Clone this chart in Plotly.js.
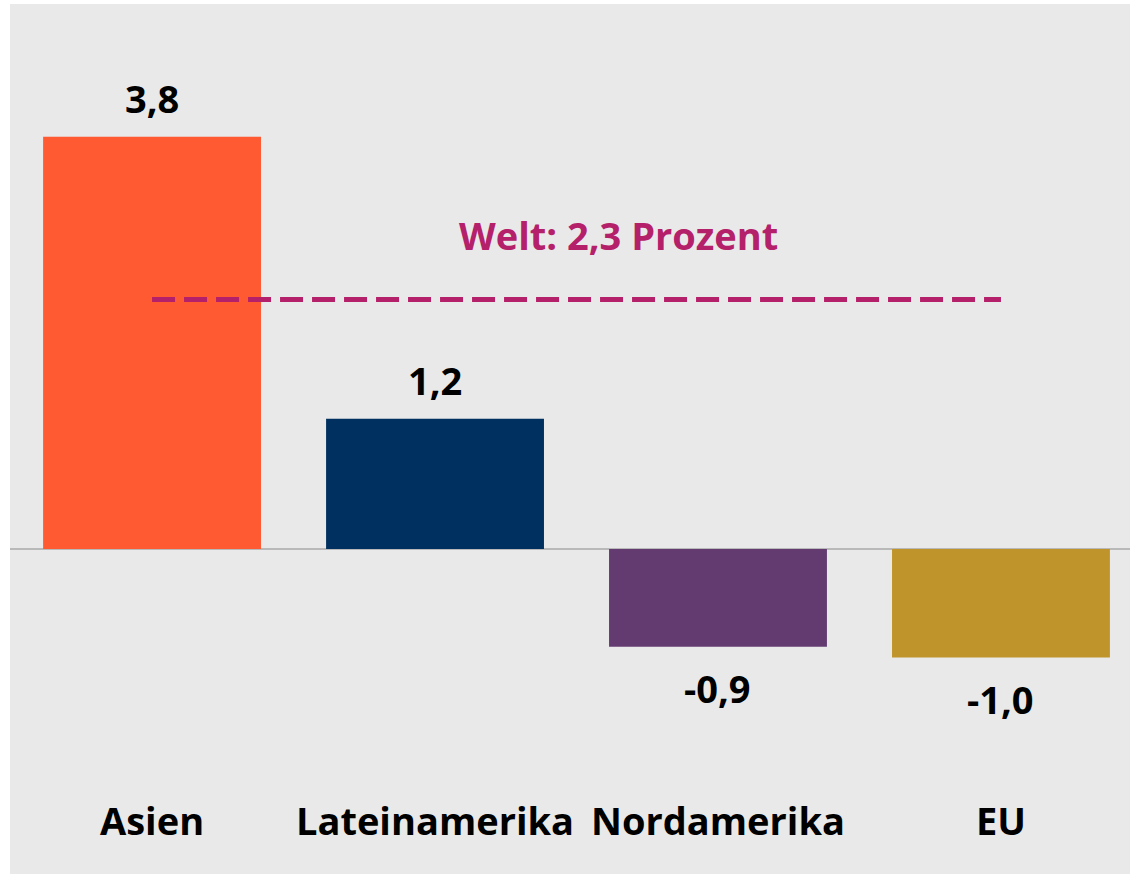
<!DOCTYPE html>
<html>
<head>
<meta charset="utf-8">
<script src="https://cdn.plot.ly/plotly-3.0.1.min.js"></script>
<style>
  html, body { margin: 0; padding: 0; background: #ffffff; }
  #chart { position: absolute; left: 10px; top: 4px; width: 1120px; height: 870px; }
</style>
</head>
<body>
<div id="chart"></div>
<script>
const categories = ['Asien', 'Lateinamerika', 'Nordamerika', 'EU'];
const values = [3.8, 1.2, -0.9, -1.0];
const barColors = ['#ff5a32', '#00305f', '#633b70', '#bf942a'];
const worldValue = 2.3;
const worldLabel = 'Welt: 2,3 Prozent';

const fmt = v => v.toFixed(1).replace('.', ',');
const FONT = '"Open Sans", "Source Sans Pro", "Noto Sans", sans-serif';

const bars = {
  type: 'bar',
  x: categories,
  y: values,
  marker: { color: barColors, line: { width: 0 } },
  width: 0.77,
  hoverinfo: 'skip',
  showlegend: false
};

const worldLine = {
  type: 'scatter',
  mode: 'lines',
  x: [categories[0], categories[categories.length - 1]],
  y: [worldValue, worldValue],
  line: { color: '#b5206a', width: 5, dash: '23px,9px' },
  hoverinfo: 'skip',
  showlegend: false
};

const annotations = values.map((v, i) => ({
  x: categories[i],
  y: v,
  xref: 'x', yref: 'y',
  text: '<b>' + fmt(v) + '</b>',
  showarrow: false,
  yanchor: 'middle',
  yshift: v >= 0 ? 39 : -41,
  font: { family: FONT, size: 38, color: '#000000' }
}));

annotations.push({
  x: 1.65, y: worldValue,
  xref: 'x', yref: 'y',
  text: '<b>' + worldLabel + '</b>',
  showarrow: false,
  yanchor: 'middle',
  yshift: 64,
  font: { family: FONT, size: 38, color: '#b5206a' }
});

const layout = {
  width: 1120,
  height: 870,
  margin: { l: 0, r: 0, t: 0, b: 79, pad: 0 },
  paper_bgcolor: '#e9e9e9',
  plot_bgcolor: '#e9e9e9',
  font: { family: FONT, color: '#000000' },
  separators: ',.',
  xaxis: {
    type: 'category',
    range: [-0.502, 3.456],
    showgrid: false,
    zeroline: false,
    showline: false,
    ticks: '',
    ticklabelstandoff: 1,
    tickfont: { family: FONT, size: 38, color: '#000000', weight: 'bold' },
    fixedrange: true
  },
  yaxis: {
    range: [-2.267, 5.023],
    showgrid: false,
    zeroline: true,
    zerolinecolor: '#b9b9b9',
    zerolinewidth: 2,
    showticklabels: false,
    ticks: '',
    showline: false,
    fixedrange: true
  },
  annotations: annotations
};

Plotly.newPlot('chart', [bars, worldLine], layout, { displayModeBar: false, staticPlot: true });
</script>
</body>
</html>
